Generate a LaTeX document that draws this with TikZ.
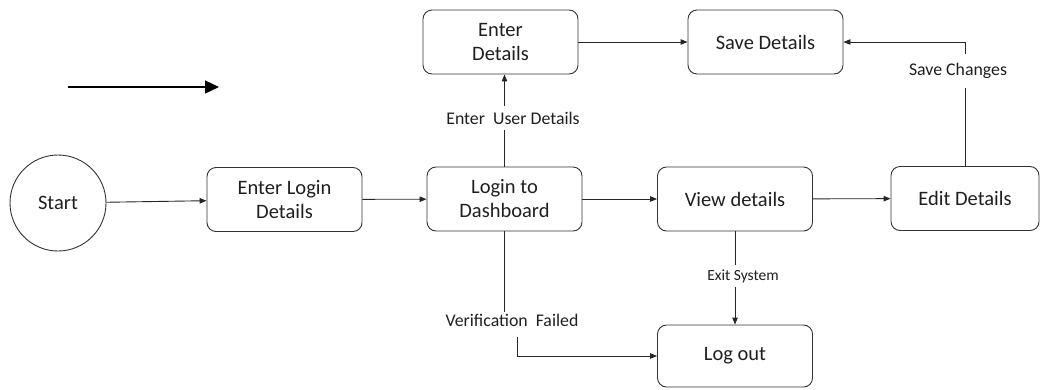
\documentclass[tikz,border=0pt]{standalone}
\usepackage{fontspec}
\setmainfont{Carlito}
\usetikzlibrary{arrows.meta}
\begin{document}
\begin{tikzpicture}[x=1pt,y=-1pt,
 box/.style={draw=black!80, rounded corners=9pt, minimum width=155pt, minimum height=64pt, align=center, font=\fontsize{20.5}{24}\selectfont, line width=0.9pt, inner sep=2pt, text=black!88},
 conn/.style={draw=black!85, line width=0.9pt, -{Triangle[length=7pt,width=5.5pt]}},
 plain/.style={draw=black!85, line width=0.9pt},
 lbl/.style={font=\fontsize{17.8}{20}\selectfont, fill=white, inner xsep=1pt, text=black!88}]
\useasboundingbox (0,0) rectangle (1040,389);
\node[draw=black!80, line width=0.9pt, circle, minimum size=96pt, font=\fontsize{20.5}{24}\selectfont, text=black!88] (start) at (58,203) {Start};
\node[box] (login1) at (284.5,199.5) {Enter Login\\Details};
\node[box] (dash) at (504.5,199) {Login to\\Dashboard};
\node[box] (view) at (735,199) {View details};
\node[box, minimum width=148pt] (edit) at (965,198.5) {Edit Details};
\node[box] (enterd) at (500.5,42) {Enter\\Details};
\node[box] (save) at (765.5,42) {Save Details};
\node[box, minimum height=62pt] (logout) at (735,356) {Log out};

\coordinate (fa) at (68,87);
\coordinate (fb) at (219,87);
\draw[line width=1.3pt, -{Triangle[length=14pt,width=13pt]}] (fa) -- (fb);

\draw[conn] (start) -- (login1);
\draw[conn] (login1) -- (dash);
\draw[conn] (dash) -- (view);
\draw[conn] (view) -- (edit);
\draw[conn] (enterd) -- (save);
\draw[conn] (edit.north) |- (save.east);
\node[lbl, inner ysep=9pt] (sc) at (958,71) {Save Changes};
\draw[conn] (dash.north) -- (dash.north |- enterd.south);
\node[lbl, inner ysep=6pt] (eud) at (513,118) {Enter\ \ User Details};
\draw[conn] (view.south) -- (logout.north);
\node[lbl, inner ysep=4pt, font=\fontsize{15.5}{18}\selectfont] (es) at (743,276) {Exit System};
\node[lbl, fill=none, inner ysep=2pt] (vfl) at (512,320) {Verification\ \ Failed};
\draw[plain] (dash.south) -- (dash.south |- vfl.north);
\coordinate (vfb) at (517,337);
\draw[conn] (vfb) |- (logout.west);
\end{tikzpicture}
\end{document}
